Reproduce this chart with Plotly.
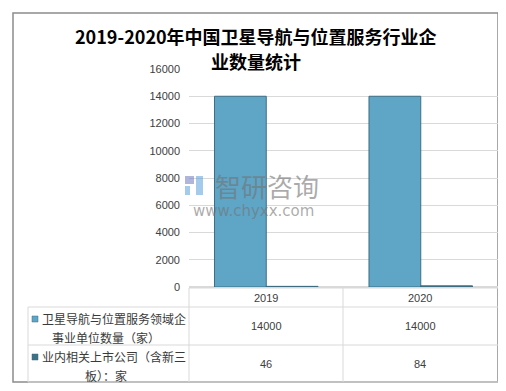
import plotly.graph_objects as go

categories = ["2019", "2020"]
series_names = ["卫星导航与位置服务领域企事业单位数量（家）", "业内相关上市公司（含新三板）：家"]
series_labels = [["卫星导航与位置服务领域企", "事业单位数量（家）"], ["业内相关上市公司（含新三", "板）：家"]]
enterprises = [14000, 14000]
listed = [46, 84]
y_ticks = [0, 2000, 4000, 6000, 8000, 10000, 12000, 14000, 16000]
title_lines = ["2019-2020年中国卫星导航与位置服务行业企", "业数量统计"]

OFF = 8  # page body margin
W, H = 506 - OFF, 391 - OFF
L, R, T, B = 189 - OFF, 8, 69 - OFF, 104
PW, PH = W - L - R, H - T - B

def px(x):
    return (x - OFF - L) / PW

def py(y):
    return (H - B - (y - OFF)) / PH

colors = ["#5FA5C6", "#3F7186"]
edge = ["#3C6E84", "#3A6A7E"]

fig = go.Figure()
for vals, name, c, e in zip([enterprises, listed], series_names, colors, edge):
    fig.add_trace(go.Bar(x=categories, y=vals, name=name, marker=dict(color=c, line=dict(color=e, width=1))))

shapes = []
grid = "#D9D9D9"
shapes.append(dict(type="rect", xref="paper", yref="paper", x0=px(13), x1=px(498), y0=py(13), y1=py(382),
                   line=dict(color="#8C8C8C", width=1.5), layer="below"))
row_y = [288, 307, 345, 382]
for yy in row_y:
    x0 = 189 if yy == 288 else 28
    shapes.append(dict(type="line", xref="paper", yref="paper", x0=px(x0), x1=px(498), y0=py(yy), y1=py(yy),
                       line=dict(color=grid, width=1)))
for xx, ytop in [(28, 307), (189, 288), (343, 288)]:
    shapes.append(dict(type="line", xref="paper", yref="paper", x0=px(xx), x1=px(xx), y0=py(ytop), y1=py(382),
                       line=dict(color=grid, width=1)))
for i, c in enumerate(colors):
    yc = 319 if i == 0 else 357
    shapes.append(dict(type="rect", xref="paper", yref="paper", x0=px(32), x1=px(38), y0=py(yc - 3), y1=py(yc + 3),
                       line=dict(color=edge[i], width=0.5), fillcolor=c))
# watermark logo
shapes.append(dict(type="rect", xref="paper", yref="paper", x0=px(185), x1=px(194), y0=py(176), y1=py(184),
                   line=dict(width=0), fillcolor="rgba(110,120,190,0.55)"))
shapes.append(dict(type="rect", xref="paper", yref="paper", x0=px(185), x1=px(190), y0=py(186), y1=py(195),
                   line=dict(width=0), fillcolor="rgba(90,160,220,0.55)"))
shapes.append(dict(type="rect", xref="paper", yref="paper", x0=px(196), x1=px(203), y0=py(176), y1=py(195),
                   line=dict(width=0), fillcolor="rgba(90,160,220,0.55)"))

annotations = []

def ann(text, x, y, font, xanchor="center"):
    annotations.append(dict(text=text, x=px(x), y=py(y), xref="paper", yref="paper", showarrow=False,
                            xanchor=xanchor, yanchor="middle", font=font))

tfont = dict(size=18, color="#000000", family="Noto Sans CJK SC")
ann("<b>" + title_lines[0] + "</b>", 256, 36, tfont)
ann("<b>" + title_lines[1] + "</b>", 256, 61, tfont)
col_centers = [266, 420]
nfont = dict(size=11, color="#404040", family="Liberation Sans, Arial")
for cat, xc in zip(categories, col_centers):
    ann(cat, xc, 298, nfont)
lfont = dict(size=12, color="#3A3A3A", family="Noto Sans CJK SC")
for i, (vals, lab) in enumerate(zip([enterprises, listed], series_labels)):
    yc = 326 if i == 0 else 364
    for v, xc in zip(vals, col_centers):
        ann(str(v), xc, yc, nfont)
    ann(lab[0], 40, yc - 8, lfont, xanchor="left")
    ann(lab[1], 106, yc + 11, lfont)
ann("智研咨询", 267, 185, dict(size=26, color="rgba(115,115,115,0.6)", family="Noto Sans CJK SC"))
ann("www.chyxx.com", 253, 211, dict(size=15, color="rgba(115,115,115,0.6)", family="DejaVu Sans"))

fig.update_layout(
    width=W, height=H,
    margin=dict(l=L, r=R, t=T, b=B),
    paper_bgcolor="white", plot_bgcolor="white",
    barmode="group", bargap=0.33, bargroupgap=0,
    showlegend=False,
    xaxis=dict(showticklabels=False, showline=False, ticks="", range=[-0.5, 1.5]),
    yaxis=dict(range=[0, 16000], tickvals=y_ticks, tickformat="d", showgrid=True, gridcolor=grid, gridwidth=1,
               zeroline=True, zerolinecolor=grid, showline=False, ticks="",
               tickfont=dict(size=11, color="#404040", family="Liberation Sans, Arial"), ticklabelstandoff=8),
    shapes=shapes, annotations=annotations,
)

fig.write_html("out.html")
